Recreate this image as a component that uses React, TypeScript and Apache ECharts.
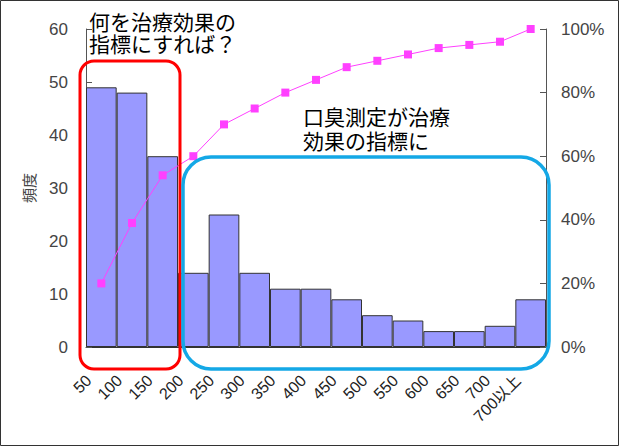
import React, { useEffect, useRef } from 'react';
import * as echarts from 'echarts';

const categories = ['50', '100', '150', '200', '250', '300', '350', '400', '450', '500', '550', '600', '650', '700', '700以上'];
const counts = [49, 48, 36, 14, 25, 14, 11, 11, 9, 6, 5, 3, 3, 4, 9];
const cumulative = [20, 39, 54, 60, 70, 75, 80, 84, 88, 90, 92, 94, 95, 96, 100];
const countTicks = { min: 0, max: 60, interval: 10 };
const percentTicks = { min: 0, max: 100, interval: 20 };

const noteLeft = ['何を治療効果の', '指標にすれば？'];
const noteRight = ['口臭測定が治療', '効果の指標に'];

const LATIN = "'Liberation Sans', Arial, 'Noto Sans CJK JP', sans-serif";
const JP = "'Noto Sans CJK JP', sans-serif";

const App: React.FC = () => {
  const chartRef = useRef<HTMLDivElement>(null);

  useEffect(() => {
    document.body.style.margin = '0';
    const chart = echarts.init(chartRef.current!, null, { renderer: 'svg' });

    // one text element per line, lines sit close together like the original
    const noteLines = (lines: string[], x: number, y: number, pitch: number) =>
      lines.map((line, i) => ({
        type: 'text',
        z: 100,
        x,
        y: y + i * pitch,
        style: {
          text: line,
          font: `21px ${JP}`,
          fill: '#000',
          verticalAlign: 'middle'
        }
      }));

    const options = {
      animation: false,
      backgroundColor: '#fff',
      grid: { left: 86, right: 74, top: 29, bottom: 100 },
      xAxis: {
        type: 'category',
        data: categories,
        boundaryGap: true,
        axisLine: { lineStyle: { color: '#333', width: 1 } },
        axisTick: { show: false },
        axisLabel: {
          interval: 0,
          rotate: 45,
          margin: 18,
          padding: [0, 18, 0, 0],
          color: '#222',
          fontSize: 16,
          fontFamily: LATIN
        }
      },
      yAxis: [
        {
          type: 'value',
          ...countTicks,
          name: '頻度',
          nameLocation: 'middle',
          nameRotate: 90,
          nameGap: 50,
          nameTextStyle: { color: '#444', fontSize: 15, fontFamily: JP },
          splitLine: { show: false },
          axisLine: { show: true, lineStyle: { color: '#555' } },
          axisTick: { show: true, inside: true, length: 6, lineStyle: { color: '#555' } },
          axisLabel: { color: '#444', fontSize: 17, margin: 18, fontFamily: LATIN }
        },
        {
          type: 'value',
          ...percentTicks,
          position: 'right',
          splitLine: { show: false },
          axisLine: { show: true, lineStyle: { color: '#555' } },
          axisTick: { show: true, inside: true, length: 6, lineStyle: { color: '#555' } },
          axisLabel: { color: '#444', fontSize: 17, margin: 15, fontFamily: LATIN, formatter: '{value}%' }
        }
      ],
      series: [
        {
          name: '頻度',
          type: 'bar',
          data: counts,
          barWidth: '100%',
          barCategoryGap: 0,
          itemStyle: { color: '#9999ff', borderColor: '#333', borderWidth: 1 }
        },
        {
          name: '累積',
          type: 'line',
          yAxisIndex: 1,
          data: cumulative,
          symbol: 'rect',
          symbolSize: 8,
          lineStyle: { color: '#ff40ff', width: 1 },
          itemStyle: { color: '#ff40ff' },
          z: 5
        }
      ],
      graphic: [
        {
          type: 'rect',
          z: 100,
          shape: { x: 0.5, y: 0.5, width: 618, height: 445 },
          style: { fill: 'none', stroke: '#333', lineWidth: 1 }
        },
        {
          type: 'rect',
          z: 100,
          shape: { x: 80, y: 61, width: 100, height: 308, r: 14 },
          style: { fill: 'none', stroke: '#ff0000', lineWidth: 3 }
        },
        {
          type: 'rect',
          z: 100,
          shape: { x: 183, y: 157, width: 366, height: 212, r: 28 },
          style: { fill: 'none', stroke: '#14a8e6', lineWidth: 3.5 }
        },
        ...noteLines(noteLeft, 89, 21, 22),
        ...noteLines(noteRight, 303, 116, 24)
      ]
    };

    chart.setOption(options);

    return () => {
      chart.dispose();
    };
  }, []);

  return <div ref={chartRef} style={{ width: '620px', height: '447px' }}></div>;
};

export default App;
